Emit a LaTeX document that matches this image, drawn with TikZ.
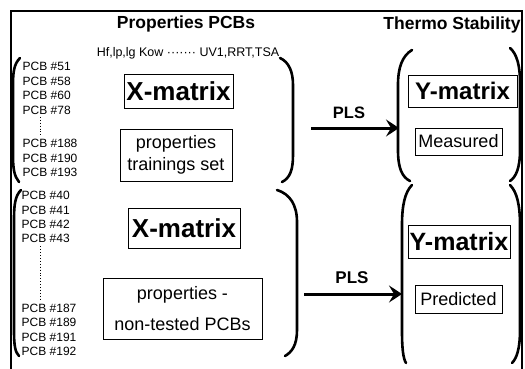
\documentclass[tikz,border=0pt]{standalone}
\usepackage{fontspec}
\setmainfont{Liberation Sans}
\usetikzlibrary{arrows.meta}
\tikzset{
	frame/.style={line width=1.2pt},
	paren/.style={line width=2.6pt, line cap=round},
	mbox/.style={draw, line width=0.8pt, inner sep=0pt, align=center},
	pcb/.style={anchor=west, inner sep=0.5pt, font=\fontsize{12}{14}\selectfont},
	vdots/.style={dotted, line width=0.9pt},
	plsarrow/.style={line width=3pt, -{Stealth[length=13pt,width=17pt,inset=5pt]}},
	head/.style={anchor=base, inner sep=0pt, font=\bfseries\fontsize{17.5}{20}\selectfont},
	big/.style={font=\bfseries\fontsize{26}{28}\selectfont},
	mid/.style={font=\fontsize{18}{21.5}\selectfont},
}
\begin{document}
\begin{tikzpicture}[x=1pt, y=-1pt]
	\useasboundingbox (0,0) rectangle (525,369);
	\draw[frame] (11,369) -- (11,11) -- (522,11) -- (522,369);
	% headings
	\node[head] (hprop) at (186,29) {Properties PCBs};
	\node[head] (htherm) at (452,30) {Thermo Stability};
	\node[anchor=base, inner sep=0pt, font=\fontsize{12.5}{14}\selectfont] (hvars) at (188,57) {Hf,lp,lg Kow ·······\ UV1,RRT,TSA};
	% training set
	\draw[paren] (20,58) .. controls (14,64) and (13,72) .. (13,85) -- (13,155) .. controls (13,168) and (14,176) .. (19,182);
	\draw[paren] (280,58) .. controls (289,62) and (293,72) .. (293,85) -- (293,155) .. controls (293,170) and (290,178) .. (282,182);
	\node[pcb] (p51) at (22,66.5) {PCB \#51};
	\node[pcb] (p58) at (22,81) {PCB \#58};
	\node[pcb] (p60) at (22,95.5) {PCB \#60};
	\node[pcb] (p78) at (22,110) {PCB \#78};
	\node[pcb] (p188) at (22,143.5) {PCB \#188};
	\node[pcb] (p190) at (22,158) {PCB \#190};
	\node[pcb] (p193) at (22,172.5) {PCB \#193};
	\draw[vdots] ([xshift=18pt,yshift=-2pt]p78.south west) -- ([xshift=18pt,yshift=2pt]p188.north west);
	\node[mbox, big, minimum width=109, minimum height=34] (xtop) at (178.5,91) {X-matrix};
	\node[mbox, mid, minimum width=112, minimum height=52] (train) at (176,155) {properties\\trainings set};
	% test set
	\draw[paren] (21,190) .. controls (15,196) and (14,205) .. (14,220) -- (14,330) .. controls (14,345) and (15,352) .. (19,356);
	\draw[paren] (277,190) .. controls (290,194) and (297,205) .. (297,222) -- (297,330) .. controls (297,345) and (292,352) .. (285,356);
	\node[pcb] (p40) at (21,195) {PCB \#40};
	\node[pcb] (p41) at (21,210) {PCB \#41};
	\node[pcb] (p42) at (21,224.5) {PCB \#42};
	\node[pcb] (p43) at (21,238.5) {PCB \#43};
	\node[pcb] (p187) at (21,308) {PCB \#187};
	\node[pcb] (p189) at (21,322.5) {PCB \#189};
	\node[pcb] (p191) at (21,337) {PCB \#191};
	\node[pcb] (p192) at (21,351.5) {PCB \#192};
	\draw[vdots] ([xshift=19pt,yshift=-3pt]p43.south west) -- ([xshift=19pt,yshift=3pt]p187.north west);
	\node[mbox, big, minimum width=112, minimum height=40] (xbot) at (184,228) {X-matrix};
	\node[mbox, font=\fontsize{18}{31}\selectfont, minimum width=159, minimum height=61] (test) at (182.5,308.5) {properties -\\non-tested PCBs};
	% Y side
	\draw[paren] (412,50) .. controls (402,56) and (398,68) .. (398,85) -- (398,150) .. controls (398,168) and (402,177) .. (410,181);
	\draw[paren] (510,48) .. controls (517,54) and (520,66) .. (520,82) -- (520,150) .. controls (520,168) and (516,177) .. (510,181);
	\node[mbox, font=\bfseries\fontsize{24}{26}\selectfont, minimum width=109, minimum height=32] (ytop) at (462.5,91) {Y-matrix};
	\node[mbox, mid, minimum width=87, minimum height=27] (meas) at (458.5,141.5) {Measured};
	\draw[paren] (412,185) .. controls (405,192) and (402,205) .. (402,225) -- (402,330) .. controls (402,348) and (403,358) .. (406,363);
	\draw[paren] (510,185) .. controls (517,192) and (520,205) .. (520,225) -- (520,330) .. controls (520,348) and (517,358) .. (512,363);
	\node[mbox, font=\bfseries\fontsize{25}{27}\selectfont, minimum width=102, minimum height=33] (ybot) at (459,241.5) {Y-matrix};
	\node[mbox, mid, minimum width=87, minimum height=28] (pred) at (458.5,299) {Predicted};
	% PLS arrows
	\coordinate (a1) at (311,128);
	\coordinate (b1) at (399,128);
	\coordinate (a2) at (304,294);
	\coordinate (b2) at (402,294);
	\draw[plsarrow] (a1) -- (b1);
	\draw[plsarrow] (a2) -- (b2);
	\node[head, font=\bfseries\fontsize{16.5}{18}\selectfont] (pls1) at (349,118) {PLS};
	\node[head, font=\bfseries\fontsize{17}{18}\selectfont] (pls2) at (352,283) {PLS};
\end{tikzpicture}
\end{document}
